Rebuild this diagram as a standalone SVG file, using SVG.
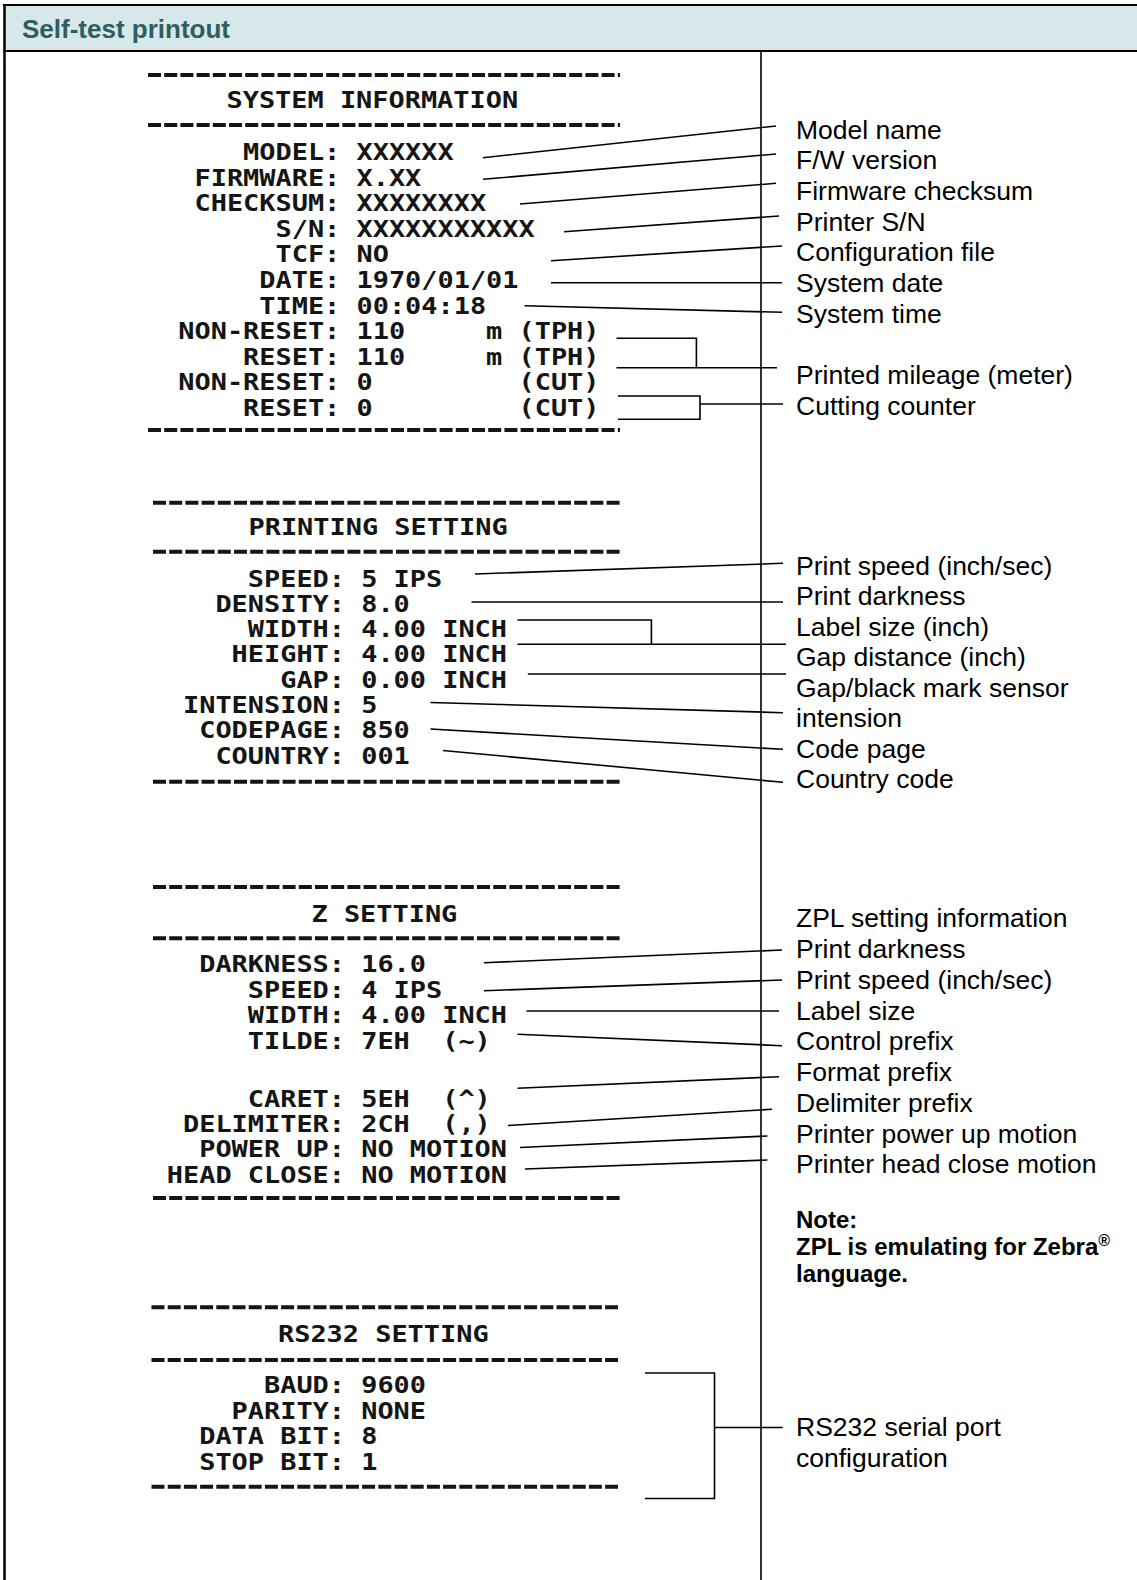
<svg xmlns="http://www.w3.org/2000/svg" width="1137" height="1580" viewBox="0 0 1137 1580">
<style>
.pt{font-family:"DejaVu Sans Mono","Liberation Mono",monospace;font-weight:bold;font-size:23px;fill:#151515;white-space:pre}
.lb{font-family:"Liberation Sans",Arial,sans-serif;font-size:26.5px;fill:#000}
.nt{font-family:"Liberation Sans",Arial,sans-serif;font-size:24px;font-weight:bold;fill:#000}
.hd{font-family:"Liberation Sans",Arial,sans-serif;font-size:26px;font-weight:bold;fill:#2F5E62}
.dash{stroke:#151515;stroke-width:4;stroke-dasharray:13 3.2;fill:none}
.cn{stroke:#000;stroke-width:1.6;fill:none}
.fr{stroke:#000;fill:none}
</style>
<g id="frame">
<rect x="4" y="5" width="1133" height="46" fill="#D6E8EA"/>
<line class="fr" x1="3" y1="5" x2="1137" y2="5" stroke-width="2"/>
<line class="fr" x1="4.5" y1="4" x2="4.5" y2="1580" stroke-width="2.5"/>
<line class="fr" x1="3" y1="51" x2="1137" y2="51" stroke-width="1.8"/>
<line class="fr" x1="761" y1="51" x2="761" y2="1580" stroke-width="1.6"/>
<text class="hd" x="22" y="37.5">Self-test printout</text>
</g>
<g id="system-information">
<line class="dash" x1="148" y1="75" x2="620" y2="75"/>
<text class="pt" x="226.5" y="108" textLength="291.6" lengthAdjust="spacingAndGlyphs">SYSTEM INFORMATION</text>
<line class="dash" x1="148" y1="125" x2="620" y2="125"/>
<text class="pt" x="162.1" y="160" textLength="291.6" lengthAdjust="spacingAndGlyphs">     MODEL: XXXXXX</text>
<text class="pt" x="162.1" y="185.6" textLength="259.2" lengthAdjust="spacingAndGlyphs">  FIRMWARE: X.XX</text>
<text class="pt" x="162.1" y="211.2" textLength="324" lengthAdjust="spacingAndGlyphs">  CHECKSUM: XXXXXXXX</text>
<text class="pt" x="162.1" y="236.8" textLength="372.6" lengthAdjust="spacingAndGlyphs">       S/N: XXXXXXXXXXX</text>
<text class="pt" x="162.1" y="262.4" textLength="226.8" lengthAdjust="spacingAndGlyphs">       TCF: NO</text>
<text class="pt" x="162.1" y="288" textLength="356.4" lengthAdjust="spacingAndGlyphs">      DATE: 1970/01/01</text>
<text class="pt" x="162.1" y="313.6" textLength="324" lengthAdjust="spacingAndGlyphs">      TIME: 00:04:18</text>
<text class="pt" x="162.1" y="339.2" textLength="437.4" lengthAdjust="spacingAndGlyphs"> NON-RESET: 110     m (TPH)</text>
<text class="pt" x="162.1" y="364.8" textLength="437.4" lengthAdjust="spacingAndGlyphs">     RESET: 110     m (TPH)</text>
<text class="pt" x="162.1" y="390.4" textLength="437.4" lengthAdjust="spacingAndGlyphs"> NON-RESET: 0         (CUT)</text>
<text class="pt" x="162.1" y="416" textLength="437.4" lengthAdjust="spacingAndGlyphs">     RESET: 0         (CUT)</text>
<line class="dash" x1="148" y1="430" x2="620" y2="430"/>
</g>
<g id="printing-setting">
<line class="dash" x1="153" y1="502.7" x2="620" y2="502.7"/>
<text class="pt" x="248.5" y="535" textLength="259.2" lengthAdjust="spacingAndGlyphs">PRINTING SETTING</text>
<line class="dash" x1="153" y1="551.7" x2="620" y2="551.7"/>
<text class="pt" x="166.8" y="586.5" textLength="275.4" lengthAdjust="spacingAndGlyphs">     SPEED: 5 IPS</text>
<text class="pt" x="166.8" y="611.8" textLength="243" lengthAdjust="spacingAndGlyphs">   DENSITY: 8.0</text>
<text class="pt" x="166.8" y="637.1" textLength="340.2" lengthAdjust="spacingAndGlyphs">     WIDTH: 4.00 INCH</text>
<text class="pt" x="166.8" y="662.4" textLength="340.2" lengthAdjust="spacingAndGlyphs">    HEIGHT: 4.00 INCH</text>
<text class="pt" x="166.8" y="687.7" textLength="340.2" lengthAdjust="spacingAndGlyphs">       GAP: 0.00 INCH</text>
<text class="pt" x="166.8" y="713" textLength="210.6" lengthAdjust="spacingAndGlyphs"> INTENSION: 5</text>
<text class="pt" x="166.8" y="738.3" textLength="243" lengthAdjust="spacingAndGlyphs">  CODEPAGE: 850</text>
<text class="pt" x="166.8" y="763.6" textLength="243" lengthAdjust="spacingAndGlyphs">   COUNTRY: 001</text>
<line class="dash" x1="153" y1="781.7" x2="620" y2="781.7"/>
</g>
<g id="z-setting">
<line class="dash" x1="153" y1="887" x2="620" y2="887"/>
<text class="pt" x="311.5" y="921.7" textLength="145.8" lengthAdjust="spacingAndGlyphs">Z SETTING</text>
<line class="dash" x1="153" y1="938.3" x2="620" y2="938.3"/>
<text class="pt" x="166.8" y="972.3" textLength="259.2" lengthAdjust="spacingAndGlyphs">  DARKNESS: 16.0</text>
<text class="pt" x="166.8" y="998.3" textLength="275.4" lengthAdjust="spacingAndGlyphs">     SPEED: 4 IPS</text>
<text class="pt" x="166.8" y="1023.3" textLength="340.2" lengthAdjust="spacingAndGlyphs">     WIDTH: 4.00 INCH</text>
<text class="pt" x="166.8" y="1049" textLength="324" lengthAdjust="spacingAndGlyphs">     TILDE: 7EH  (~)</text>
<text class="pt" x="166.8" y="1106.7" textLength="324" lengthAdjust="spacingAndGlyphs">     CARET: 5EH  (^)</text>
<text class="pt" x="166.8" y="1131.7" textLength="324" lengthAdjust="spacingAndGlyphs"> DELIMITER: 2CH  (,)</text>
<text class="pt" x="166.8" y="1157.3" textLength="340.2" lengthAdjust="spacingAndGlyphs">  POWER UP: NO MOTION</text>
<text class="pt" x="166.8" y="1183.3" textLength="340.2" lengthAdjust="spacingAndGlyphs">HEAD CLOSE: NO MOTION</text>
<line class="dash" x1="153" y1="1198" x2="620" y2="1198"/>
</g>
<g id="rs232-setting">
<line class="dash" x1="151.5" y1="1307.3" x2="618" y2="1307.3"/>
<text class="pt" x="278" y="1341.7" textLength="210.6" lengthAdjust="spacingAndGlyphs">RS232 SETTING</text>
<line class="dash" x1="151.5" y1="1360" x2="618" y2="1360"/>
<text class="pt" x="166.8" y="1393" textLength="259.2" lengthAdjust="spacingAndGlyphs">      BAUD: 9600</text>
<text class="pt" x="166.8" y="1418.7" textLength="259.2" lengthAdjust="spacingAndGlyphs">    PARITY: NONE</text>
<text class="pt" x="166.8" y="1444.3" textLength="210.6" lengthAdjust="spacingAndGlyphs">  DATA BIT: 8</text>
<text class="pt" x="166.8" y="1470" textLength="210.6" lengthAdjust="spacingAndGlyphs">  STOP BIT: 1</text>
<line class="dash" x1="151.5" y1="1486.7" x2="618" y2="1486.7"/>
</g>
<g id="labels-system">
<g id="lbl-model-name"><text class="lb" x="796" y="139">Model name</text></g>
<g id="lbl-fw-version"><text class="lb" x="796" y="168.5">F/W version</text></g>
<g id="lbl-firmware-checksum"><text class="lb" x="796" y="200">Firmware checksum</text></g>
<g id="lbl-printer-sn"><text class="lb" x="796" y="230.5">Printer S/N</text></g>
<g id="lbl-configuration-file"><text class="lb" x="796" y="261">Configuration file</text></g>
<g id="lbl-system-date"><text class="lb" x="796" y="291.5">System date</text></g>
<g id="lbl-system-time"><text class="lb" x="796" y="322.5">System time</text></g>
<g id="lbl-printed-mileage"><text class="lb" x="796" y="384">Printed mileage (meter)</text></g>
<g id="lbl-cutting-counter"><text class="lb" x="796" y="414.5">Cutting counter</text></g>
</g>
<g id="labels-printing">
<g id="lbl-print-speed"><text class="lb" x="796" y="574.5">Print speed (inch/sec)</text></g>
<g id="lbl-print-darkness"><text class="lb" x="796" y="605">Print darkness</text></g>
<g id="lbl-label-size-inch"><text class="lb" x="796" y="635.5">Label size (inch)</text></g>
<g id="lbl-gap-distance"><text class="lb" x="796" y="666">Gap distance (inch)</text></g>
<g id="lbl-sensor-intension"><text class="lb" x="796" y="696.5">Gap/black mark sensor</text><text class="lb" x="796" y="727">intension</text></g>
<g id="lbl-code-page"><text class="lb" x="796" y="757.5">Code page</text></g>
<g id="lbl-country-code"><text class="lb" x="796" y="788">Country code</text></g>
</g>
<g id="labels-z">
<g id="lbl-zpl-info"><text class="lb" x="796" y="927">ZPL setting information</text></g>
<g id="lbl-z-print-darkness"><text class="lb" x="796" y="958">Print darkness</text></g>
<g id="lbl-z-print-speed"><text class="lb" x="796" y="988.5">Print speed (inch/sec)</text></g>
<g id="lbl-z-label-size"><text class="lb" x="796" y="1019.5">Label size</text></g>
<g id="lbl-control-prefix"><text class="lb" x="796" y="1050">Control prefix</text></g>
<g id="lbl-format-prefix"><text class="lb" x="796" y="1081">Format prefix</text></g>
<g id="lbl-delimiter-prefix"><text class="lb" x="796" y="1111.5">Delimiter prefix</text></g>
<g id="lbl-power-up"><text class="lb" x="796" y="1142.5">Printer power up motion</text></g>
<g id="lbl-head-close"><text class="lb" x="796" y="1173">Printer head close motion</text></g>
</g>
<g id="note">
<text class="nt" x="796" y="1227.5">Note:</text>
<text class="nt" x="796" y="1255">ZPL is emulating for Zebra<tspan font-size="16" dy="-9">®</tspan></text>
<text class="nt" x="796" y="1282">language.</text>
</g>
<g id="lbl-rs232">
<text class="lb" x="796" y="1435.5">RS232 serial port</text>
<text class="lb" x="796" y="1466.5">configuration</text>
</g>
<g id="connectors">
<line class="cn" x1="483" y1="157.7" x2="776" y2="126"/>
<line class="cn" x1="483" y1="179.3" x2="776" y2="154"/>
<line class="cn" x1="520" y1="204" x2="776" y2="183.3"/>
<line class="cn" x1="564" y1="231.7" x2="779" y2="216"/>
<line class="cn" x1="551" y1="260.7" x2="782" y2="246"/>
<line class="cn" x1="551" y1="282.7" x2="782" y2="282.7"/>
<line class="cn" x1="524.5" y1="305.7" x2="782" y2="312.3"/>
<polyline class="cn" points="616.5,338.3 696.4,338.3 696.4,367.7"/>
<line class="cn" x1="616.5" y1="367.7" x2="777" y2="367.7"/>
<polyline class="cn" points="618,396 700,396 700,419.3 618,419.3"/>
<line class="cn" x1="700" y1="404" x2="783" y2="404"/>
<line class="cn" x1="475" y1="574" x2="783" y2="563.3"/>
<line class="cn" x1="471.5" y1="602" x2="783" y2="602"/>
<polyline class="cn" points="517.5,620 651.4,620 651.4,644.3"/>
<line class="cn" x1="517.5" y1="644.3" x2="786" y2="644.3"/>
<line class="cn" x1="527.8" y1="674" x2="786" y2="674"/>
<line class="cn" x1="430.5" y1="702.5" x2="783" y2="712.7"/>
<line class="cn" x1="430.5" y1="729" x2="783" y2="749.3"/>
<line class="cn" x1="443" y1="750.5" x2="783" y2="782.3"/>
<line class="cn" x1="484" y1="962.7" x2="782" y2="950"/>
<line class="cn" x1="484" y1="990.7" x2="782" y2="980"/>
<line class="cn" x1="526.5" y1="1011" x2="779" y2="1011"/>
<line class="cn" x1="517.5" y1="1034.3" x2="782" y2="1045.7"/>
<line class="cn" x1="517.5" y1="1088.3" x2="779" y2="1076.7"/>
<line class="cn" x1="508" y1="1125.5" x2="772" y2="1109.3"/>
<line class="cn" x1="520" y1="1147.5" x2="767.5" y2="1136"/>
<line class="cn" x1="525" y1="1169" x2="767.5" y2="1160"/>
<polyline class="cn" points="645,1373 714.5,1373 714.5,1498.5 645,1498.5"/>
<line class="cn" x1="714.5" y1="1427.5" x2="782.7" y2="1427.5"/>
</g>
</svg>
